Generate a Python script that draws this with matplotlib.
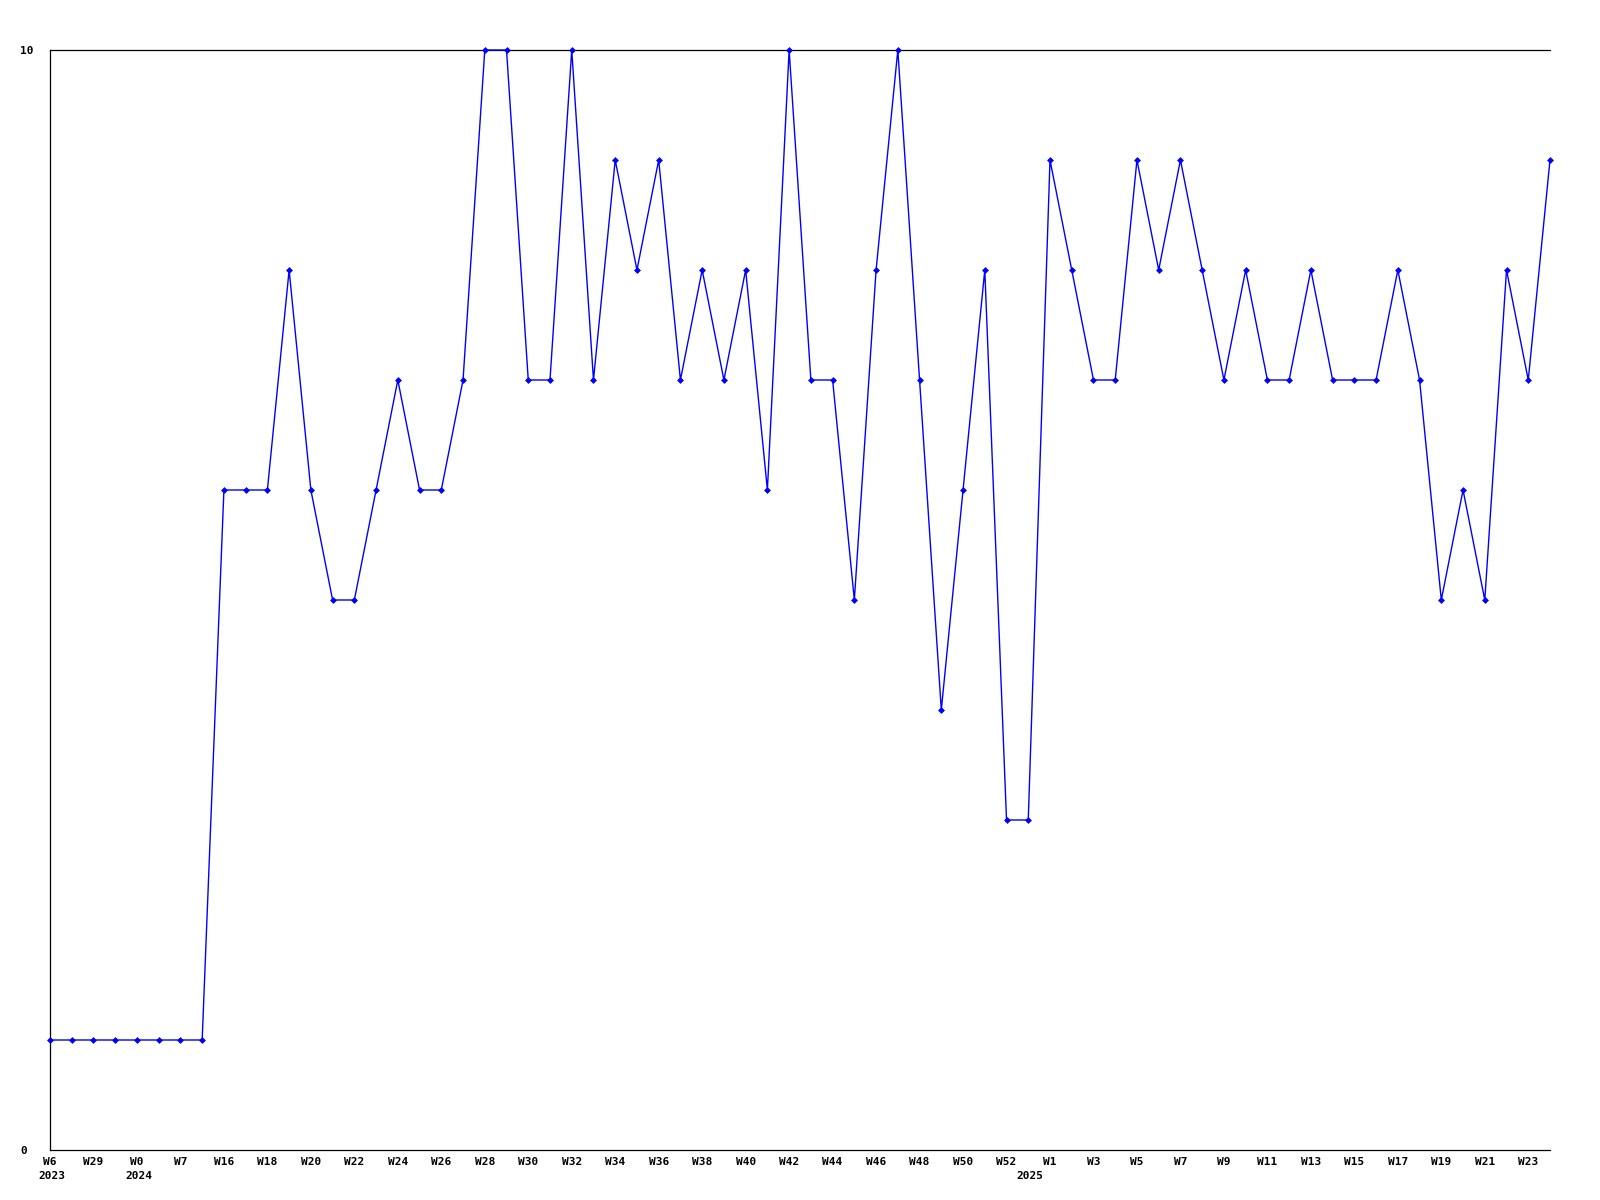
import matplotlib
matplotlib.use("Agg")
import matplotlib.pyplot as plt
import matplotlib.transforms as mtransforms

# ---- data ----
values = [1, 1, 1, 1, 1, 1, 1, 1, 6, 6,
          6, 8, 6, 5, 5, 6, 7, 6, 6, 7,
          10, 10, 7, 7, 10, 7, 9, 8, 9, 7,
          8, 7, 8, 6, 10, 7, 7, 5, 8, 10,
          7, 4, 6, 8, 3, 3, 9, 8, 7, 7,
          9, 8, 9, 8, 7, 8, 7, 7, 8, 7,
          7, 7, 8, 7, 5, 6, 5, 8, 7, 9]

week_labels = ["W6", "W29", "W0", "W7", "W16", "W18", "W20", "W22", "W24", "W26",
               "W28", "W30", "W32", "W34", "W36", "W38", "W40", "W42", "W44", "W46",
               "W48", "W50", "W52", "W1", "W3", "W5", "W7", "W9", "W11", "W13",
               "W15", "W17", "W19", "W21", "W23"]
week_label_idx = list(range(0, 70, 2))

year_labels = ["2023", "2024", "2025"]
year_label_idx = [0, 4, 45]

y_ticks = [0, 10]

# ---- style ----
FONT = dict(family="DejaVu Sans Mono", weight="bold", size=8)
BLUE = "#0000ff"

fig = plt.figure(figsize=(16, 12), dpi=100)
ax = fig.add_axes([50 / 1600, 50 / 1200, 1500 / 1600, 1100 / 1200])

x = list(range(len(values)))
ax.plot(x, values, color=BLUE, linewidth=1.0, marker="D", markersize=3,
        markeredgewidth=0.5, clip_on=False, zorder=3)

ax.set_xlim(0, len(values) - 1)
ax.set_ylim(0, 10)

for s in ["left", "bottom", "top"]:
    ax.spines[s].set_linewidth(0.9)
    ax.spines[s].set_color("black")
ax.spines["right"].set_visible(False)

ax.set_xticks(week_label_idx)
ax.set_xticklabels(week_labels, fontdict=FONT)
ax.tick_params(axis="x", length=0, pad=5)

ax.set_yticks(y_ticks)
ax.set_yticklabels([str(t) for t in y_ticks], fontdict=FONT)
ax.tick_params(axis="y", length=0, pad=21.6)
for lab in ax.get_yticklabels():
    lab.set_horizontalalignment("left")

trans = mtransforms.blended_transform_factory(ax.transData, ax.transAxes)
for idx, lab in zip(year_label_idx, year_labels):
    ax.annotate(lab, xy=(idx, 0), xycoords=trans, xytext=(2, -21),
                textcoords="offset pixels", ha="center", va="top",
                fontfamily=FONT["family"], fontweight=FONT["weight"],
                fontsize=FONT["size"], annotation_clip=False)

fig.savefig("out.png", dpi=100, facecolor="white")
